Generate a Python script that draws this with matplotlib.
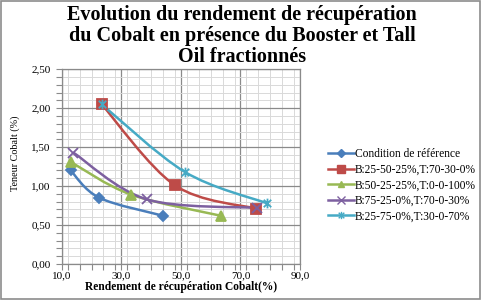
import matplotlib
matplotlib.use('Agg')
import matplotlib.pyplot as plt
from matplotlib.path import Path
from matplotlib.patches import PathPatch, Rectangle
from matplotlib.lines import Line2D
from matplotlib.ticker import MultipleLocator, FixedLocator, FuncFormatter
import numpy as np

# --- data ---
series_labels = ['Condition de référence',
                 'B:25-50-25%,T:70-30-0%',
                 'B:50-25-25%,T:0-0-100%',
                 'B:75-25-0%,T:70-0-30%',
                 'B:25-75-0%,T:30-0-70%']
rendement_ref = [13.0, 22.6, 43.9]
teneur_ref = [1.20, 0.85, 0.62]
rendement_b1 = [23.4, 48.0, 75.2]
teneur_b1 = [2.05, 1.01, 0.71]
rendement_b2 = [13.0, 33.3, 63.3]
teneur_b2 = [1.31, 0.89, 0.62]
rendement_b3 = [13.9, 38.5, 75.6]
teneur_b3 = [1.43, 0.83, 0.72]
rendement_b4 = [23.4, 51.4, 78.8]
teneur_b4 = [2.05, 1.18, 0.78]
x_ticks = [10, 30, 50, 70, 90]

xs = [rendement_ref, rendement_b1, rendement_b2, rendement_b3, rendement_b4]
ys = [teneur_ref, teneur_b1, teneur_b2, teneur_b3, teneur_b4]

colors = ['#4A7EBB', '#BE4B48', '#98B954', '#7D60A0', '#46AAC5']

# Excel-like star marker (x with a vertical bar)
star = Path([(-1, -1), (1, 1), (-1, 1), (1, -1), (0, -1.3), (0, 1.3)],
            [Path.MOVETO, Path.LINETO, Path.MOVETO, Path.LINETO, Path.MOVETO, Path.LINETO])
markers = ['D', 's', '^', 'x', star]
msizes = [5, 7, 6.5, 7, 7]


def smooth_path(x, y):
    # Excel style smoothed line: cubic bezier, tension 1/6
    p = np.column_stack([x, y])
    n = len(p)
    verts = [p[0]]
    codes = [Path.MOVETO]
    for i in range(n - 1):
        p0 = p[i - 1] if i > 0 else p[i]
        p3 = p[i + 2] if i + 2 < n else p[i + 1]
        c1 = p[i] + (p[i + 1] - p0) / 6
        c2 = p[i + 1] - (p3 - p[i]) / 6
        verts += [c1, c2, p[i + 1]]
        codes += [Path.CURVE4] * 3
    return Path(verts, codes)


plt.rcParams['font.family'] = ['Liberation Serif', 'DejaVu Serif']

fig = plt.figure(figsize=(4.84, 3.01), dpi=100)
fig.patches.append(Rectangle((0.002, 0.006), 0.99, 0.99, transform=fig.transFigure,
                             fill=False, edgecolor='#8c8c8c', lw=1.2))
ax = fig.add_axes([0.1275, 0.123, 0.4925, 0.647])

for x, y, c, m, ms in zip(xs, ys, colors, markers, msizes):
    ax.add_patch(PathPatch(smooth_path(x, y), fill=False, edgecolor=c, lw=1.8, zorder=3))
    ax.plot(x, y, linestyle='none', marker=m, color=c, markersize=ms,
            markeredgewidth=1.3, zorder=4)

ax.set_xlim(10, 90)
ax.set_ylim(0, 2.5)
ax.xaxis.set_major_locator(FixedLocator(x_ticks))
ax.xaxis.set_minor_locator(MultipleLocator(4))
ax.yaxis.set_major_locator(MultipleLocator(0.5))
ax.yaxis.set_minor_locator(MultipleLocator(0.1))
ax.xaxis.set_major_formatter(FuncFormatter(lambda v, p: f'{v:.1f}'.replace('.', ',')))
ax.yaxis.set_major_formatter(FuncFormatter(lambda v, p: f'{v:.2f}'.replace('.', ',')))
ax.grid(which='major', color='#8a8a8a', lw=0.9)
ax.grid(which='minor', color='#d9d9d9', lw=0.7)
ax.set_axisbelow(True)
ax.tick_params(which='both', labelsize=8, length=4, color='#8a8a8a', width=0.8)
ax.tick_params(axis='y', pad=4)
ax.tick_params(axis='x', pad=1)
for s in ax.spines.values():
    s.set_color('#8a8a8a')
    s.set_linewidth(0.9)

ax.set_xlabel('Rendement de récupération Cobalt(%)', fontsize=8.3, fontweight='bold', labelpad=1)
fig.text(0.031, 0.49, 'Teneur Cobalt (%)', rotation=90, ha='center', va='center', fontsize=7.3)

fig.text(0.5, 0.982, 'Evolution du rendement de récupération\ndu Cobalt en présence du Booster et Tall\nOil fractionnés',
         ha='center', va='top', fontsize=14.5, fontweight='bold', linespacing=1.05)

handles = [Line2D([], [], color=c, marker=m, markersize=ms * 0.75, lw=1.8, markeredgewidth=1)
           for c, m, ms in zip(colors, markers, msizes)]
fig.legend(handles, series_labels, loc='upper left', bbox_to_anchor=(0.668, 0.522),
           frameon=False, fontsize=8.3, handlelength=2.3, handletextpad=0.05,
           labelspacing=0.3, borderaxespad=0)

fig.savefig('out.png', dpi=100)
